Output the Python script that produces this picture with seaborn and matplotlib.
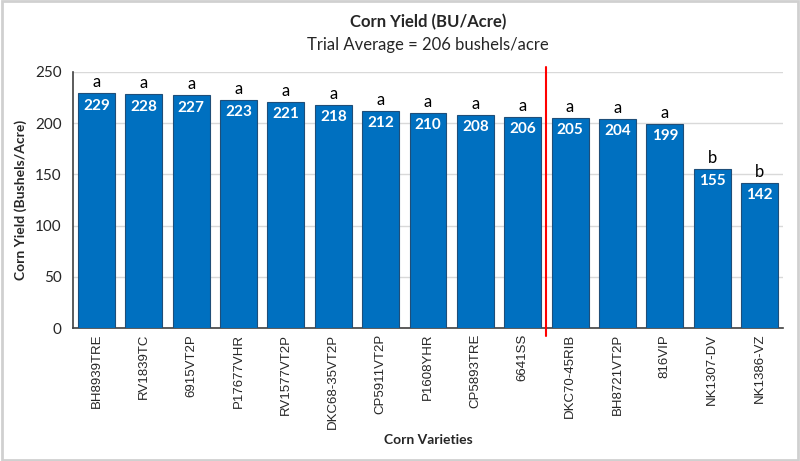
import matplotlib
matplotlib.use("Agg")
import matplotlib.pyplot as plt
import seaborn as sns
import pandas as pd
from matplotlib.patches import Rectangle

varieties = ["BH8939TRE", "RV1839TC", "6915VT2P", "P17677VHR", "RV1577VT2P",
             "DKC68-35VT2P", "CP5911VT2P", "P1608YHR", "CP5893TRE", "6641SS",
             "DKC70-45RIB", "BH8721VT2P", "816VIP", "NK1307-DV", "NK1386-VZ"]
yields = [229, 228, 227, 223, 221, 218, 212, 210, 208, 206, 205, 204, 199, 155, 142]
letters = ["a"] * 13 + ["b", "b"]
yticks = [0, 50, 100, 150, 200, 250]

df = pd.DataFrame({"variety": varieties, "yield": yields})

sns.set_style("white")
plt.rcParams['font.family'] = ['Lato', 'DejaVu Sans']

fig = plt.figure(figsize=(8, 4.61), dpi=100)
ax = fig.add_axes([0.091, 0.288, 0.888, 0.556])

sns.barplot(data=df, x="variety", y="yield", color="#0070C0", width=0.78,
            edgecolor="#1F4E79", linewidth=0.8, saturation=1, ax=ax, zorder=3)

ax.set_ylim(0, 250)
ax.set_xlim(-0.5, len(varieties) - 0.5)
ax.set_yticks(yticks)
ax.set_yticklabels([str(t) for t in yticks], fontsize=11)
ax.yaxis.grid(True, color="#D9D9D9", linewidth=1, zorder=0)
ax.set_axisbelow(True)

# Category boundary ticks (Excel style)
ax.set_xticks(range(len(varieties)))
ax.set_xticklabels(varieties, rotation=90, fontsize=9.5, family=['Liberation Sans'])
ax.tick_params(axis='x', length=0, pad=4)
ax.set_xticks([i - 0.5 for i in range(len(varieties) + 1)], minor=True)
ax.tick_params(axis='x', which='minor', length=5, direction='out', color='#404040', width=1)
ax.tick_params(axis='y', length=4, direction='out', color='#404040', width=1, pad=4)

for s in ["top", "right"]:
    ax.spines[s].set_visible(False)
for s in ["left", "bottom"]:
    ax.spines[s].set_color("#404040")
    ax.spines[s].set_linewidth(1.2)

for i, (v, l) in enumerate(zip(yields, letters)):
    ax.text(i, v - 5, str(v), ha='center', va='top', color='white',
            fontsize=11, fontweight='bold')
    ax.text(i, v + 3, l, ha='center', va='bottom', color='black', fontsize=12)

ax.axvline(9.5, ymin=-0.03, ymax=1.02, color="#FF0000", linewidth=1.5, clip_on=False, zorder=4)

ax.set_xlabel("Corn Varieties", fontsize=10, fontweight='bold', labelpad=4)
ax.set_ylabel("Corn Yield (Bushels/Acre)", fontsize=10, fontweight='bold', labelpad=6)

fig.text(0.535, 0.952, "Corn Yield (BU/Acre)", ha='center', va='center',
         fontsize=12, fontweight='bold')
fig.text(0.535, 0.903, "Trial Average = 206 bushels/acre", ha='center', va='center',
         fontsize=12)

fig.patches.append(Rectangle((0.002, 0.003), 0.996, 0.994, transform=fig.transFigure,
                             fill=False, edgecolor="#D0D0D0", linewidth=2))

fig.savefig("out.png", dpi=100)
